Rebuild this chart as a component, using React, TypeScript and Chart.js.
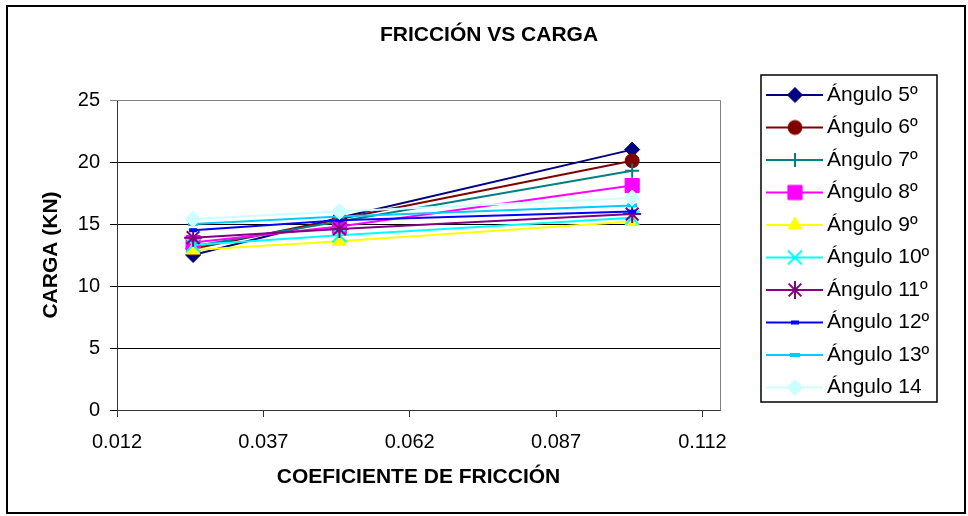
import React, { useEffect, useRef } from 'react';
import { Chart, registerables } from 'chart.js';
import { drawPoint } from 'chart.js/helpers';

Chart.register(...registerables);

// ---------- DATA ----------
const chartTitle = 'FRICCIÓN VS CARGA';
const xAxisTitle = 'COEFICIENTE DE FRICCIÓN';
const yAxisTitle = 'CARGA (KN)';

const xValues = [0.025, 0.05, 0.1];
const xTickLabels = ['0.012', '0.037', '0.062', '0.087', '0.112'];
const yMin = 0;
const yMax = 25;
const yStep = 5;

const seriesNames = [
  'Ángulo 5º', 'Ángulo 6º', 'Ángulo 7º', 'Ángulo 8º', 'Ángulo 9º',
  'Ángulo 10º', 'Ángulo 11º', 'Ángulo 12º', 'Ángulo 13º', 'Ángulo 14',
];
const angulo5 = [12.5, 15.5, 21.0];
const angulo6 = [13.0, 15.4, 20.1];
const angulo7 = [13.2, 15.2, 19.3];
const angulo8 = [13.5, 14.8, 18.1];
const angulo9 = [12.9, 13.6, 15.2];
const angulo10 = [13.3, 14.1, 15.5];
const angulo11 = [13.9, 14.6, 15.8];
const angulo12 = [14.5, 15.3, 16.0];
const angulo13 = [15.0, 15.6, 16.5];
const angulo14 = [15.4, 16.0, 17.1];
const seriesValues = [angulo5, angulo6, angulo7, angulo8, angulo9, angulo10, angulo11, angulo12, angulo13, angulo14];

// ---------- STYLES ----------
const FONT = '"Liberation Sans", Arial, sans-serif';
const colors = ['#000080', '#800000', '#008080', '#FF00FF', '#FFFF00', '#00FFFF', '#800080', '#0000FF', '#00CCFF', '#CCFFFF'];
const markers: any[] = [
  { style: 'rectRot', r: 7.5, bw: 1, fill: true },
  { style: 'circle', r: 7, bw: 1, fill: true },
  { style: 'cross', r: 7, bw: 2, fill: false },
  { style: 'rect', r: 10, bw: 1, fill: true },
  { style: 'triangle', r: 8, bw: 1, fill: true },
  { style: 'crossRot', r: 10, bw: 2, fill: false },
  { style: 'star', r: 9, bw: 2, fill: false },
  { style: 'line', r: 4, bw: 4, fill: false },
  { style: 'line', r: 5, bw: 4, fill: false },
  { style: 'rectRot', r: 8, bw: 1, fill: true },
];

// layout constants
const W = 968;
const H = 516;
const PLOT_LEFT = 117;
const PLOT_RIGHT = 720;
const TITLE_CENTER_X = 489;
const LEGEND_FONT = 21;
const LEGEND_PAD = 11.5;
const LEGEND_BOX_W = 85;
const IMG_W = 98;
const IMG_H = 24;

function makeLegendImage(i: number) {
  const c = document.createElement('canvas');
  c.width = IMG_W;
  c.height = IMG_H;
  const ctx = c.getContext('2d')!;
  const cy = IMG_H / 2;
  ctx.strokeStyle = colors[i];
  ctx.lineWidth = 2;
  ctx.beginPath();
  ctx.moveTo(41, cy);
  ctx.lineTo(IMG_W, cy);
  ctx.stroke();
  const m = markers[i];
  ctx.fillStyle = colors[i];
  ctx.strokeStyle = colors[i];
  ctx.lineWidth = m.bw;
  drawPoint(ctx, { pointStyle: m.style, radius: m.r, rotation: 0, borderWidth: m.bw } as any, 70, cy);
  return c;
}

const framePlugin = {
  id: 'excelFrame',
  beforeDatasetsDraw(chart: any) {
    const { ctx, chartArea } = chart;
    ctx.save();
    ctx.strokeStyle = '#808080';
    ctx.lineWidth = 1;
    ctx.beginPath();
    const t = Math.round(chartArea.top) + 0.5;
    const r = Math.round(chartArea.right) + 0.5;
    const b = Math.round(chartArea.bottom) + 0.5;
    ctx.moveTo(Math.round(chartArea.left), t);
    ctx.lineTo(r, t);
    ctx.lineTo(r, b);
    ctx.stroke();
    ctx.restore();
  },
  afterDraw(chart: any) {
    const { ctx } = chart;
    ctx.save();
    ctx.strokeStyle = '#000';
    ctx.lineWidth = 2;
    ctx.strokeRect(7, 6, 958, 507);
    ctx.lineWidth = 1.5;
    ctx.strokeRect(761, 75, 176, 327);
    ctx.restore();
  },
};

export default function App() {
  const ref = useRef<HTMLCanvasElement | null>(null);

  useEffect(() => {
    document.body.style.margin = '0';
    const canvas = ref.current!;
    const mctx = canvas.getContext('2d')!;
    mctx.font = `${LEGEND_FONT}px ${FONT}`;
    const textW = Math.max(...seriesNames.map((n) => mctx.measureText(n).width));
    const legendWidth = LEGEND_PAD + LEGEND_BOX_W + LEGEND_FONT / 2 + textW + 10;
    const padRight = W - PLOT_RIGHT - legendWidth;
    const padLeft = 2 * TITLE_CENTER_X - W + padRight;

    const legendImages = seriesNames.map((_, i) => makeLegendImage(i));
    const xTickValues = xTickLabels.map((s) => parseFloat(s));

    const datasets = seriesNames.map((name, i) => ({
      label: name,
      data: xValues.map((x, k) => ({ x, y: seriesValues[i][k] })),
      borderColor: colors[i],
      backgroundColor: colors[i],
      borderWidth: 2,
      pointStyle: markers[i].style,
      pointRadius: markers[i].r,
      pointHoverRadius: markers[i].r,
      pointBackgroundColor: colors[i],
      pointBorderColor: colors[i],
      pointBorderWidth: markers[i].bw,
      tension: 0,
      order: 10 - i,
    }));

    const chart = new Chart(canvas, {
      type: 'line',
      data: { datasets },
      plugins: [framePlugin],
      options: {
        animation: false,
        responsive: false,
        devicePixelRatio: 1,
        layout: { padding: { left: padLeft, right: padRight, top: 5, bottom: 38.5 } },
        plugins: {
          tooltip: { enabled: false },
          title: {
            display: true,
            text: chartTitle,
            color: '#000',
            font: { family: FONT, size: 21, weight: 'bold' },
            padding: { top: 18.1, bottom: 51.7 },
          },
          legend: {
            display: true,
            position: 'right',
            align: 'center',
            fullSize: true,
            labels: {
              usePointStyle: true,
              pointStyleWidth: LEGEND_BOX_W,
              padding: LEGEND_PAD,
              color: '#000',
              font: { family: FONT, size: LEGEND_FONT },
              generateLabels: (ch: any) =>
                ch.data.datasets.map((ds: any, i: number) => ({
                  text: ds.label,
                  pointStyle: legendImages[i],
                  fillStyle: 'transparent',
                  strokeStyle: 'transparent',
                  lineWidth: 0,
                  hidden: false,
                  datasetIndex: i,
                  fontColor: '#000',
                })),
            },
          },
        },
        scales: {
          x: {
            type: 'linear',
            min: 0.012,
            max: 0.115,
            afterBuildTicks: (scale: any) => {
              scale.ticks = xTickValues.map((v) => ({ value: v }));
            },
            afterFit: (scale: any) => {
              scale.height = 67.5;
            },
            ticks: {
              color: '#000',
              font: { family: FONT, size: 20 },
              padding: 13,
              maxRotation: 0,
              autoSkip: false,
              callback: (v: any) => {
                const idx = xTickValues.findIndex((t) => Math.abs(t - v) < 1e-9);
                return idx >= 0 ? xTickLabels[idx] : '';
              },
            },
            grid: { display: true, drawOnChartArea: false, drawTicks: true, tickLength: 7, color: '#333', lineWidth: 1 },
            border: { display: true, color: '#333', width: 1 },
            title: {
              display: true,
              text: xAxisTitle,
              color: '#000',
              font: { family: FONT, size: 21, weight: 'bold' },
              padding: { top: 0, bottom: -12 },
            },
          },
          y: {
            type: 'linear',
            min: yMin,
            max: yMax,
            afterFit: (scale: any) => {
              scale.width = PLOT_LEFT - padLeft;
            },
            ticks: {
              stepSize: yStep,
              color: '#000',
              font: { family: FONT, size: 20 },
              padding: 10,
            },
            grid: {
              display: true,
              drawTicks: true,
              tickLength: 7,
              lineWidth: 1,
              color: (c: any) => (c.tick && c.tick.value === yMax ? '#808080' : '#000'),
            },
            border: { display: true, color: '#333', width: 1 },
            title: {
              display: true,
              text: yAxisTitle,
              color: '#000',
              font: { family: FONT, size: 21, weight: 'bold' },
              padding: { top: 0, bottom: 0 },
            },
          },
        },
      } as any,
    });
    return () => chart.destroy();
  }, []);

  return (
    <div style={{ width: W, height: H, background: '#fff' }}>
      <canvas ref={ref} width={W} height={H} style={{ display: 'block', width: W, height: H }} />
    </div>
  );
}
